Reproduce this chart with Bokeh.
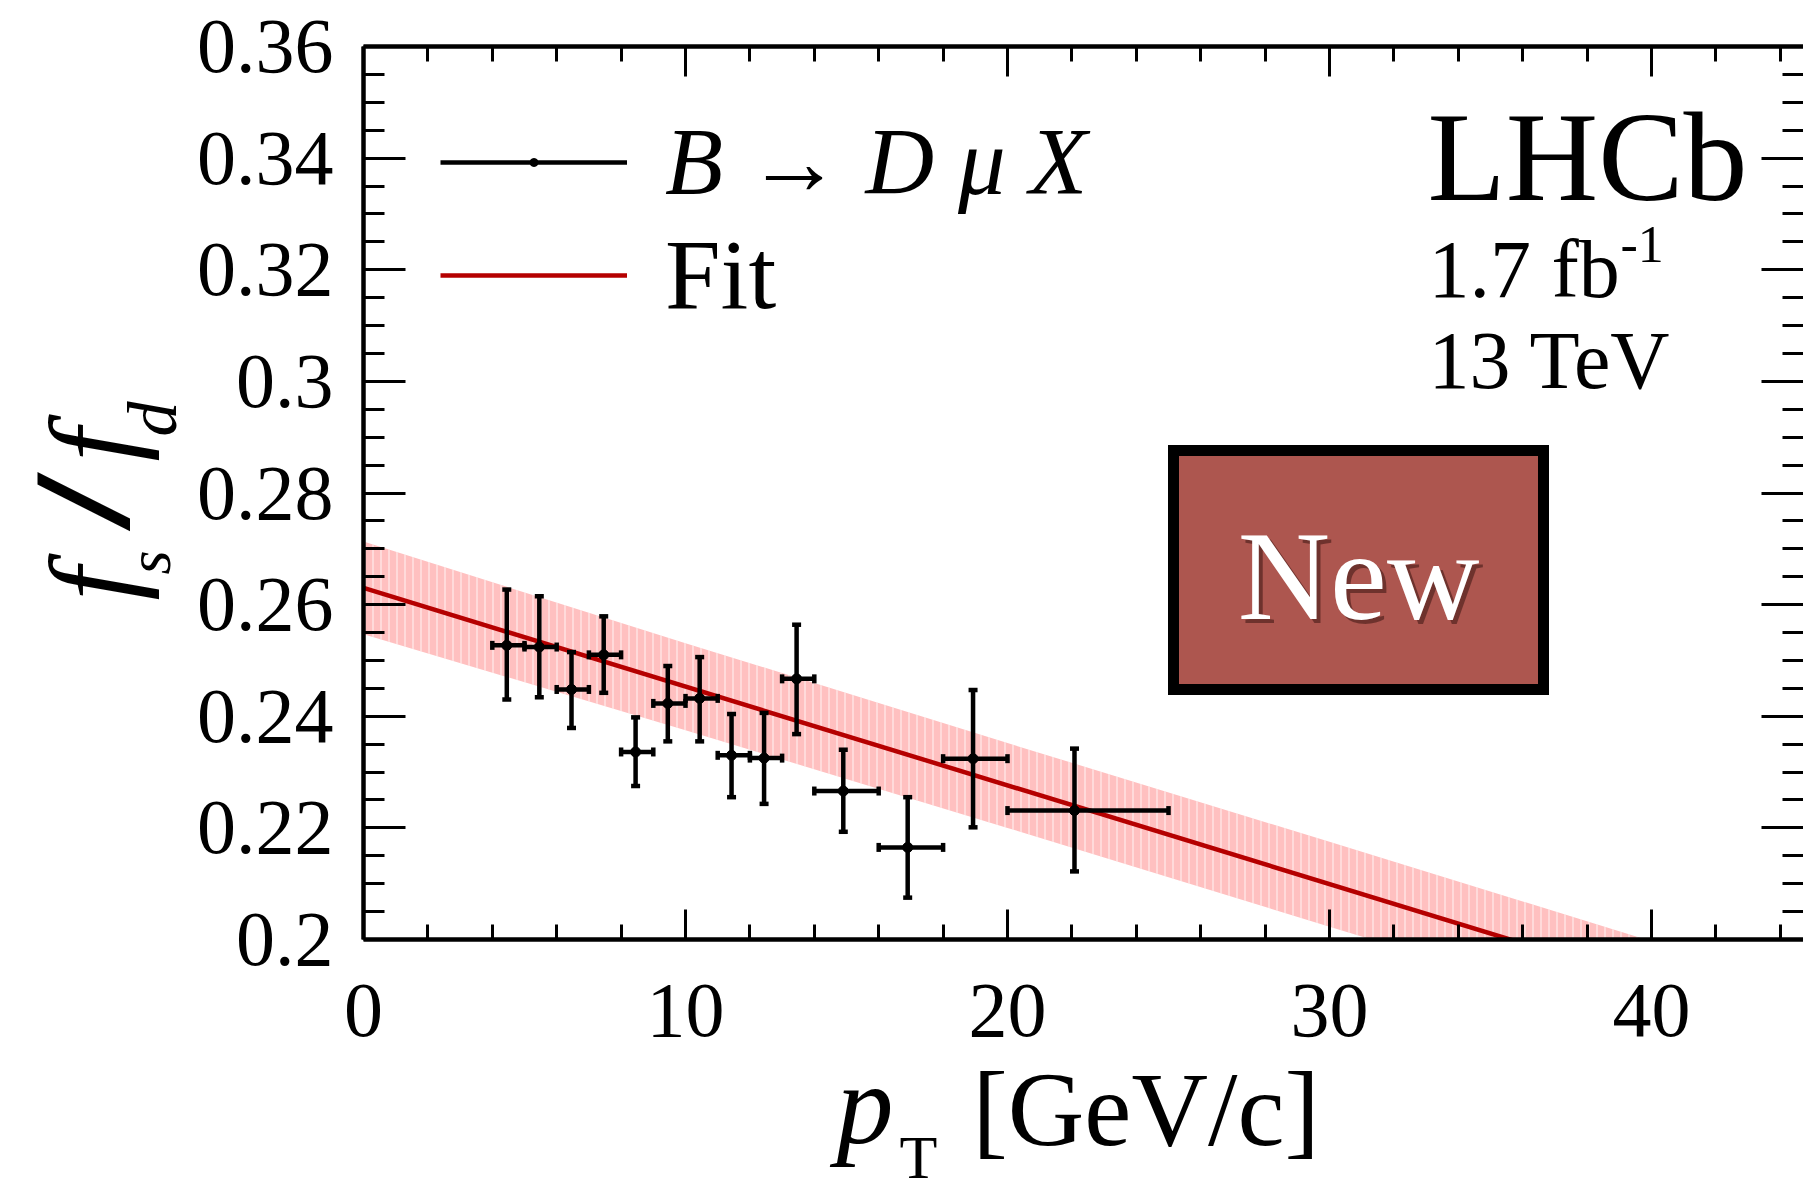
import numpy as np
from bokeh.plotting import figure
from bokeh.models import (ColumnDataSource, FixedTicker, LinearAxis, Range1d,
                          Label, BoxAnnotation, Legend, LegendItem)
from bokeh.core.properties import value
from bokeh.embed import file_html
from bokeh.resources import INLINE

# ---------------- data ----------------
pt_mean = [4.45, 5.46, 6.46, 7.46, 8.45, 9.45, 10.44, 11.43, 12.44, 13.45, 14.90, 16.90, 18.93, 22.08]
pt_bin_low = [4, 5, 6, 7, 8, 9, 10, 11, 12, 13, 14, 16, 18, 20]
pt_bin_high = [5, 6, 7, 8, 9, 10, 11, 12, 13, 14, 16, 18, 20, 25]
fs_fd = [0.2527, 0.2524, 0.2448, 0.2510, 0.2336, 0.2423, 0.2432, 0.2330, 0.2325, 0.2467,
         0.2266, 0.2165, 0.2324, 0.2231]
fs_fd_low = [0.2430, 0.2434, 0.2379, 0.2442, 0.2275, 0.2355, 0.2355, 0.2255, 0.2243, 0.2368,
             0.2193, 0.2075, 0.2201, 0.2122]
fs_fd_high = [0.2627, 0.2615, 0.2515, 0.2579, 0.2398, 0.2490, 0.2506, 0.2404, 0.2406, 0.2564,
              0.2340, 0.2255, 0.2447, 0.2342]

fit_pt = [0.0, 45.0]
fit_val = [0.2630, 0.1834]
band_pt = [0.0, 10.0, 20.0, 30.0, 40.0, 45.0]
band_low = [0.2547, 0.2375, 0.2200, 0.2023, 0.1847, 0.1758]
band_high = [0.2713, 0.2531, 0.2352, 0.2175, 0.1997, 0.1910]

x_ticks = [0, 10, 20, 30, 40]
x_minor_ticks = [2, 4, 6, 8, 12, 14, 16, 18, 22, 24, 26, 28, 32, 34, 36, 38, 42, 44]
y_ticks = [0.20, 0.22, 0.24, 0.26, 0.28, 0.30, 0.32, 0.34, 0.36]
y_tick_labels = ["0.2", "0.22", "0.24", "0.26", "0.28", "0.3", "0.32", "0.34", "0.36"]
y_minor_ticks = [round(0.2 + 0.005 * i, 3) for i in range(1, 32) if i % 4 != 0]

legend_data_label = "B → D μ X"
legend_fit_label = "Fit"

# ---------------- layout (pixels of the 1803x1192 page) ----------------
W, H = 1803, 1192
FL, FR, FT, FB = 363, 1803, 46, 939          # plot box edges
PX0, PX1 = 0.0, 44.72                        # x value at FL / FR
PY0, PY1 = 0.2, 0.36                         # y value at FB / FT
SX = (FR - FL) / (PX1 - PX0)
SY = (FB - FT) / (PY1 - PY0)


def dx(px):
    return PX0 + (px - FL) / SX


def dy(py):
    return PY1 - (py - FT) / SY


FONT = "Liberation Serif"

# frame covers the whole page; the plot box is drawn by fixed-location axes
p = figure(width=W, height=H, output_backend="svg", toolbar_location=None,
           x_range=Range1d(dx(0), dx(W)), y_range=Range1d(dy(H), dy(0)),
           x_axis_location=None, y_axis_location=None,
           min_border=0, min_border_left=0, min_border_right=0,
           min_border_top=0, min_border_bottom=0)
p.grid.visible = False
p.background_fill_color = "white"
p.border_fill_color = "white"
p.outline_line_color = None

xt = FixedTicker(ticks=x_ticks, minor_ticks=x_minor_ticks)
yt = FixedTicker(ticks=y_ticks, minor_ticks=y_minor_ticks)

tick_style = dict(major_tick_out=0, minor_tick_out=0, major_tick_line_width=3,
                  minor_tick_line_width=3, axis_line_width=4.5,
                  axis_line_color="black", major_tick_line_color="black",
                  minor_tick_line_color="black")
label_style = dict(major_label_text_font=FONT, major_label_text_font_size="78px",
                   major_label_text_color="black")
hidden = dict(major_label_text_font_size="0px", major_label_text_alpha=0,
              major_label_standoff=0)

bottom = LinearAxis(ticker=xt, fixed_location=PY0, bounds=(PX0, PX1),
                    major_tick_in=30, minor_tick_in=15, major_label_standoff=45,
                    **tick_style, **label_style)
p.add_layout(bottom, "below")
left = LinearAxis(ticker=yt, fixed_location=PX0, bounds=(PY0, PY1),
                  major_tick_in=42, minor_tick_in=21, major_label_standoff=30,
                  major_label_overrides=dict(zip(y_ticks, y_tick_labels)),
                  **tick_style, **label_style)
p.add_layout(left, "left")
top = LinearAxis(ticker=xt, fixed_location=PY1, bounds=(PX0, PX1),
                 major_tick_in=30, minor_tick_in=15, **tick_style, **hidden)
p.add_layout(top, "above")
right = LinearAxis(ticker=yt, fixed_location=PX1, bounds=(PY0, PY1),
                   major_tick_in=42, minor_tick_in=21, **tick_style, **hidden)
right.axis_line_color = None
p.add_layout(right, "right")

# ---------------- glyphs ----------------
src = ColumnDataSource(dict(x=pt_mean, xl=pt_bin_low, xh=pt_bin_high,
                            y=fs_fd, yl=fs_fd_low, yh=fs_fd_high))

band_r = p.varea(x=band_pt, y1=band_low, y2=band_high, fill_color="#ffc0c0", fill_alpha=1.0,
                 hatch_pattern="vertical_line", hatch_color="white", hatch_alpha=0.55,
                 hatch_scale=8, hatch_weight=1.5, level="image")
fit_r = p.line(fit_pt, fit_val, line_color="#b50000", line_width=4.5, level="image")

# white mask hiding the parts of band and fit that run below the plot box
mask = BoxAnnotation(left=PX0, right=dx(W) + 1, top=PY0, bottom=dy(H) - 0.01,
                     fill_color="white", fill_alpha=1.0, line_alpha=0, level="underlay")
p.add_layout(mask)

hbar = p.segment(x0="xl", y0="y", x1="xh", y1="y", source=src, line_color="black", line_width=4.5)
p.segment(x0="x", y0="yl", x1="x", y1="yh", source=src, line_color="black", line_width=4.5)
for col in ("yl", "yh"):
    p.scatter(x="x", y=col, source=src, marker="dash", size=9, line_width=4.5, line_color="black")
for col in ("xl", "xh"):
    p.scatter(x=col, y="y", source=src, marker="dash", angle=np.pi / 2, size=9,
              line_width=4.5, line_color="black")
dot = p.scatter(x="x", y="y", source=src, size=10, fill_color="black", line_color="black")

# ---------------- legends ----------------
common = dict(glyph_width=187, glyph_height=20, label_standoff=38, padding=0, margin=0,
              spacing=0, border_line_alpha=0, background_fill_alpha=0,
              label_text_font=FONT, label_height=20, label_text_color="black")
leg1 = Legend(items=[LegendItem(label=value(legend_data_label), renderers=[hbar, dot])],
              location=(440, H - 160 - 57), label_text_font_size="95px",
              label_text_font_style="italic", **common)
leg2 = Legend(items=[LegendItem(label=value(legend_fit_label), renderers=[fit_r])],
              location=(440, H - 274 - 58), label_text_font_size="100px", **common)
p.add_layout(leg1)
p.add_layout(leg2)

# ---------------- annotations ----------------
BASE_SHIFT = 0.316   # Label baseline offset (in em) seen in the rendering


def lab(text, px, py, size, style="normal", align="left", color="black", rotated=False,
        alpha=1.0, font=FONT):
    if rotated:
        x, y, ang = dx(px - BASE_SHIFT * size), dy(py), np.pi / 2
    else:
        x, y, ang = dx(px), dy(py - BASE_SHIFT * size), 0.0
    p.add_layout(Label(x=x, y=y, text=text, text_font=font,
                       text_font_size=f"{size}px", text_font_style=style,
                       text_align=align, text_baseline="alphabetic", text_color=color,
                       text_alpha=alpha, angle=ang))


box = BoxAnnotation(left=dx(1173), right=dx(1543), top=dy(450), bottom=dy(689),
                    fill_color="#ad564f", fill_alpha=1.0, line_color="black",
                    line_width=11, line_alpha=1.0, line_join="miter")
p.add_layout(box)
lab("New", 1362, 620, 128, align="center", color="#3a1512", alpha=0.55)
lab("New", 1358, 616, 128, align="center", color="white")

lab("LHCb", 1427, 197, 128)
lab("1.7 fb", 1428, 295, 82)
lab("-1", 1620, 260, 52)
lab("13 TeV", 1428, 386, 82)

# x title
lab("p", 836, 1140, 114, "italic")
lab("T", 899, 1176, 62)
lab("[GeV/c]", 972, 1142, 106)

# y title (rotated, reads bottom to top)
lab("f", 130, 600, 120, "italic", rotated=True)
lab("s", 168, 574, 62, "italic", rotated=True)
lab("/", 116, 520, 112, "bold italic", rotated=True, font="DejaVu Sans")
lab("f", 130, 461, 120, "italic", rotated=True)
lab("d", 174, 436, 70, "italic", rotated=True)

open("out.html", "w").write(file_html(p, INLINE))
